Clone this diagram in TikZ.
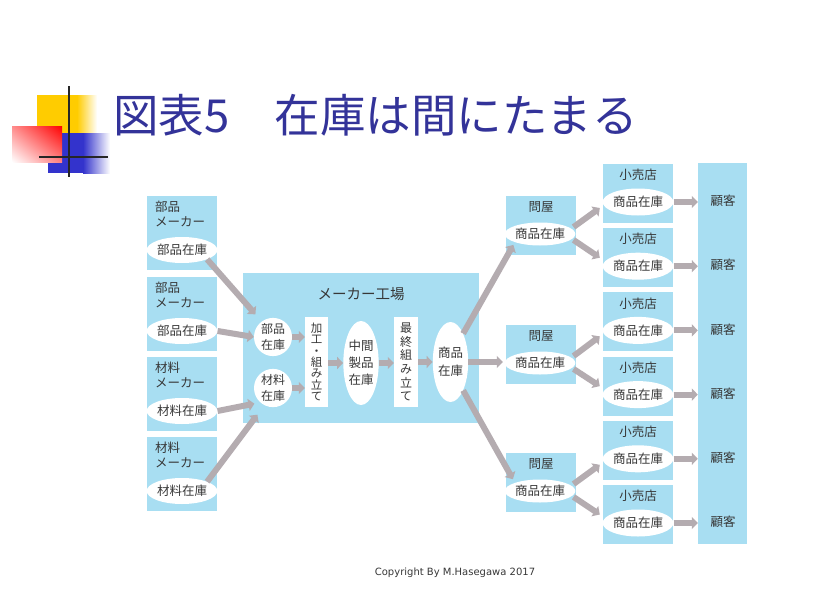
\documentclass[tikz,border=0pt]{standalone}
\usepackage{fontspec}
\newfontfamily\jp{Noto Sans CJK JP}
\newfontfamily\cpfont{DejaVu Sans}
\usetikzlibrary{arrows.meta,calc,shapes.geometric,shadings}
\definecolor{boxblue}{RGB}{168,222,242}
\definecolor{arrgray}{RGB}{180,172,176}
\definecolor{titleblue}{RGB}{51,51,153}
\definecolor{txt}{RGB}{55,55,55}
\definecolor{logoyellow}{RGB}{255,204,0}
\definecolor{logoblue}{RGB}{51,51,204}
\begin{document}
\begin{tikzpicture}[x=1pt,y=-1pt,
  box/.style={fill=boxblue,draw=none,inner sep=0pt},
  wbox/.style={fill=white,draw=none,inner sep=0pt},
  oval/.style={ellipse,fill=white,draw=none,inner sep=0pt,text=txt,font=\jp\fontsize{12.5}{13}\selectfont},
  lbl/.style={inner sep=0pt,font=\jp\fontsize{12.5}{13}\selectfont,text=txt,text height=0.82em,text depth=0.08em},
  arr/.style={draw=arrgray,line width=6pt,-{Triangle[length=6pt,width=12pt]}},
]
\useasboundingbox (0,0) rectangle (814,597);
\fill[white] (0,0) rectangle (814,597);

% logo
\fill[logoyellow] (37,95) rectangle (77,133);
\shade[left color=logoyellow,right color=white] (77,95) rectangle (97,133);
\fill[logoblue] (48,133) rectangle (83,173);
\shade[left color=logoblue,right color=white] (83,133) rectangle (110,173);
\shade[upper right=red,upper left=red!45!white,lower right=red!50!white,lower left=white] (12,126) rectangle (62,162);
\draw[line width=1.5pt,black!85] (69,86) -- (69,177);
\draw[line width=1.5pt,black!85] (39,157) -- (108,157);

% title
\node[anchor=base west,inner sep=0pt,font=\jp\fontsize{45.5}{46}\selectfont,text=titleblue] (T) at (113,132) {図表5　在庫は間にたまる};

% left suppliers
\node[box,minimum width=70pt,minimum height=74pt] (L1) at (182,233) {};
\node[box,minimum width=70pt,minimum height=74pt] (L2) at (182,314) {};
\node[box,minimum width=70pt,minimum height=74pt] (L3) at (182,394) {};
\node[box,minimum width=70pt,minimum height=74pt] (L4) at (182,474) {};
\node[lbl,anchor=west] (L1a) at (155,207.5) {部品};
\node[lbl,anchor=west] (L1b) at (155,223) {メーカー};
\node[oval,minimum width=60pt,minimum height=26pt] (L1e) at (182,250) {部品在庫};
\node[lbl,anchor=west] (L2a) at (155,288.5) {部品};
\node[lbl,anchor=west] (L2b) at (155,304) {メーカー};
\node[oval,minimum width=60pt,minimum height=26pt] (L2e) at (182,331) {部品在庫};
\node[lbl,anchor=west] (L3a) at (155,368.5) {材料};
\node[lbl,anchor=west] (L3b) at (155,384) {メーカー};
\node[oval,minimum width=60pt,minimum height=26pt] (L3e) at (182,411) {材料在庫};
\node[lbl,anchor=west] (L4a) at (155,448.5) {材料};
\node[lbl,anchor=west] (L4b) at (155,464) {メーカー};
\node[oval,minimum width=60pt,minimum height=26pt] (L4e) at (182,491) {材料在庫};

% factory
\node[box,minimum width=236pt,minimum height=150pt] (F) at (361,348) {};
\node[lbl,font=\jp\fontsize{14.5}{15}\selectfont] (Ft) at (361,296) {メーカー工場};
\node[oval,minimum width=38pt,minimum height=31pt,align=center,font=\jp\fontsize{12}{16}\selectfont] (Fb) at (273,337) {部品\\在庫};
\node[oval,minimum width=38pt,minimum height=31pt,align=center,font=\jp\fontsize{12}{16}\selectfont] (Fz) at (273,388) {材料\\在庫};
\node[wbox,minimum width=23pt,minimum height=90pt,align=center,text=txt,font=\jp\fontsize{11.5}{11.4}\selectfont] (Fk) at (316.5,362) {加\\工\\・\\組\\み\\立\\て};
\node[oval,minimum width=34pt,minimum height=84pt,align=center,font=\jp\fontsize{12.5}{17}\selectfont] (Fc) at (361,363) {中間\\製品\\在庫};
\node[wbox,minimum width=24pt,minimum height=90pt,align=center,text=txt,font=\jp\fontsize{12}{13.6}\selectfont] (Fs) at (406,362) {最\\終\\組\\み\\立\\て};
\node[oval,minimum width=35pt,minimum height=80pt,align=center,font=\jp\fontsize{12.5}{18}\selectfont] (Fp) at (450.5,362) {商品\\在庫};

% wholesalers
\node[box,minimum width=70pt,minimum height=59pt] (W1) at (541,225.5) {};
\node[lbl] (W1t) at (541,208) {問屋};
\node[oval,minimum width=64pt,minimum height=23pt] (W1e) at (540,234) {商品在庫};
\node[box,minimum width=70pt,minimum height=59pt] (W2) at (541,354) {};
\node[lbl] (W2t) at (541,337) {問屋};
\node[oval,minimum width=64pt,minimum height=23pt] (W2e) at (540,363) {商品在庫};
\node[box,minimum width=70pt,minimum height=59pt] (W3) at (541,482.5) {};
\node[lbl] (W3t) at (541,465) {問屋};
\node[oval,minimum width=64pt,minimum height=23pt] (W3e) at (540,491) {商品在庫};

% customers column
\node[box,minimum width=49pt,minimum height=381pt] (C) at (722.5,353.5) {};

% retailers
\foreach \i in {1,...,6}{
  \pgfmathsetmacro{\rtop}{164+64.2*(\i-1)}
  \node[box,minimum width=70pt,minimum height=59pt] (R\i) at (638,\rtop+29.5) {};
  \node[lbl] (R\i t) at (638,\rtop+12) {小売店};
  \node[oval,minimum width=63pt,minimum height=27pt] (R\i e) at (638,\rtop+38) {商品在庫};
  \node[lbl] (C\i) at (723,\rtop+38) {顧客};
  \draw[arr] (R\i e.east) -- (R\i e.east -| C.west);
}

% arrows: suppliers -> factory
\draw[arr] (L1e.south east) -- ($(Fb.north west)+(-4,-9)$);
\draw[arr] (L2e.east) -- (Fb.west);
\draw[arr] (L3e.east) -- ($(Fz.south west)+(-5,2)$);
\draw[arr] (L4e.north east) -- ($(Fz.south west)+(-2,13)$);

% arrows inside factory
\draw[arr] (Fb.east) -- (Fb.east -| Fk.west);
\draw[arr] (Fz.east) -- (Fz.east -| Fk.west);
\draw[arr] (Fk.east |- Fc.west) -- (Fc.west);
\draw[arr] (Fc.east) -- (Fc.east -| Fs.west);
\draw[arr] (Fs.east |- Fp.west) -- (Fp.west);

% factory -> wholesalers
\draw[arr,shorten >=3pt] (Fp.north east) -- (W1e.south west);
\draw[arr] (Fp.east) -- ($(Fp.east -| W2.west)+(-3,0)$);
\draw[arr,shorten >=4pt] (Fp.south east) -- (W3e.north west);

% wholesalers -> retailers
\draw[arr] ($(W1e.east)+(-2,-7)$) -- ($(R1.west)+(-3,14.5)$);
\draw[arr] ($(W1e.east)+(-2,6)$) -- ($(R2.west)+(-3,0)$);
\draw[arr] ($(W2e.east)+(-2,-7)$) -- ($(R3.west)+(-3,14.5)$);
\draw[arr] ($(W2e.east)+(-2,6)$) -- ($(R4.west)+(-3,0)$);
\draw[arr] ($(W3e.east)+(-2,-7)$) -- ($(R5.west)+(-3,14.5)$);
\draw[arr] ($(W3e.east)+(-2,6)$) -- ($(R6.west)+(-3,0)$);

% copyright
\node[inner sep=0pt,font=\cpfont\fontsize{10}{11}\selectfont,text=txt] (cp) at (455,573) {Copyright By M.Hasegawa 2017};
\end{tikzpicture}
\end{document}
